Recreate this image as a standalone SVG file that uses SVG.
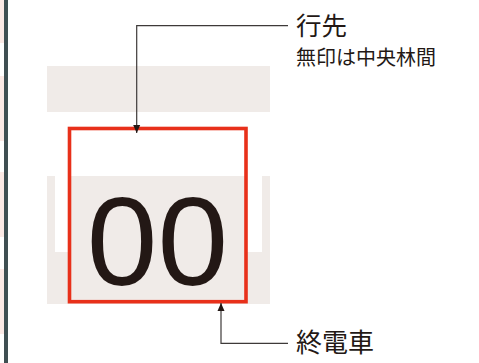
<svg xmlns="http://www.w3.org/2000/svg" width="479" height="363" viewBox="0 0 479 363">
<style>
.band{fill:#f0ebe8}
.lbl{font-family:"Noto Sans CJK JP","Noto Sans CJK SC",sans-serif;fill:#231815}
.conn{fill:none;stroke:#3e3a39;stroke-width:1.2}
.pink{fill:#fbe9e5}
</style>
<defs>
<marker id="ah" viewBox="0 0 8 8" refX="8" refY="4" markerWidth="8" markerHeight="8" markerUnits="userSpaceOnUse" orient="auto">
<path d="M0,0.5 L8,4 L0,7.5 Z" fill="#231815"/>
</marker>
</defs>
<rect width="479" height="363" fill="#fff"/>
<g id="edge">
<rect class="pink" x="0" y="0" width="4" height="43"/>
<rect class="pink" x="0" y="76" width="4" height="65"/>
<rect class="pink" x="0" y="172" width="4" height="65"/>
<rect class="pink" x="0" y="269" width="4" height="65"/>
<rect x="4" y="0" width="4" height="363" fill="#3f4f52"/>
</g>
<g id="background">
<rect class="band" x="47" y="66" width="223" height="46"/>
<path class="band" d="M47,176 H270 V304 H47 Z M55,176 V252 H262 V176 Z" fill-rule="evenodd"/>
</g>
<g id="sign">
<rect x="69.5" y="176" width="176.5" height="125.7" class="band"/>
<rect x="69.5" y="128.5" width="176.5" height="173.2" fill="none" stroke="#e8301a" stroke-width="3.6"/>
<text x="157.5" y="284.5" text-anchor="middle" font-family="Liberation Sans, Arial, sans-serif" font-size="127" fill="#231815">00</text>
</g>
<g id="connectors">
<path class="conn" d="M288,25.7 H136.7 V133" marker-end="url(#ah)"/>
<path class="conn" d="M288,343.3 H221 V303" marker-end="url(#ah)"/>
</g>
<g id="label-dest">
<text class="lbl" x="296" y="35" font-size="25.5">行先</text>
<text class="lbl" x="296" y="65" font-size="20">無印は中央林間</text>
</g>
<g id="label-last">
<text class="lbl" x="296" y="352" font-size="26">終電車</text>
</g>
</svg>
